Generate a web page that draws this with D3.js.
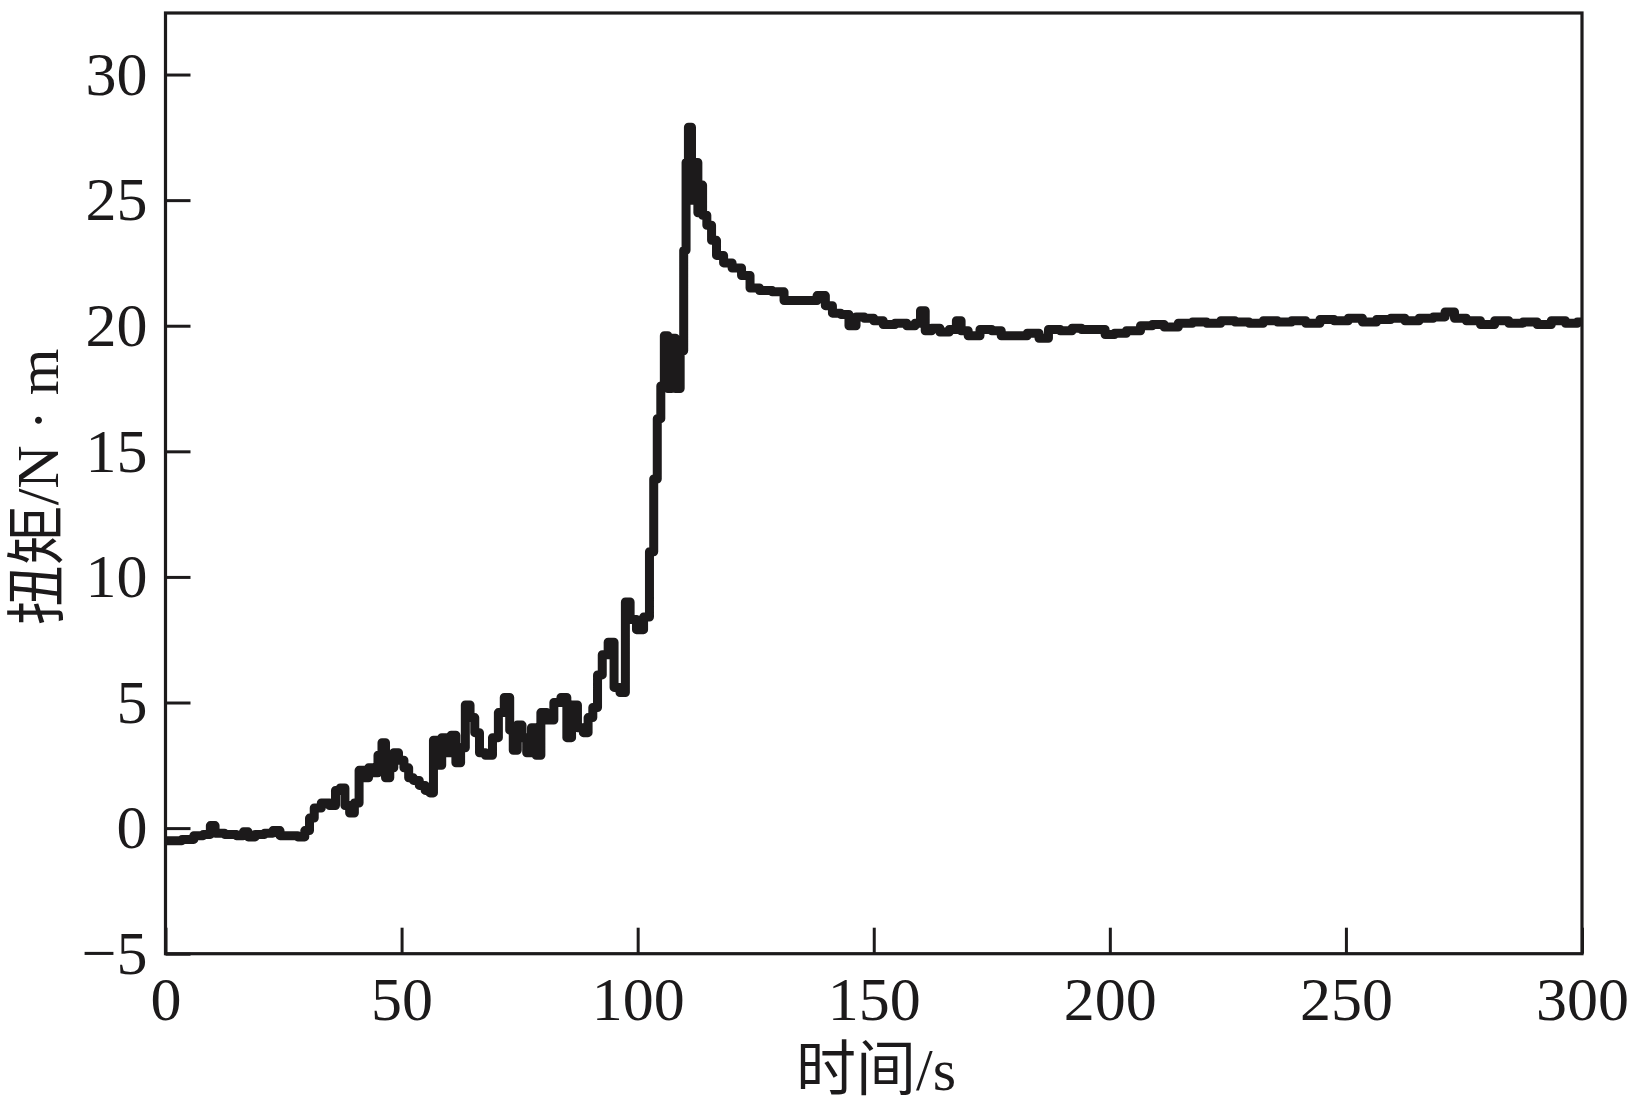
<!DOCTYPE html>
<html><head><meta charset="utf-8">
<script src="https://cdn.jsdelivr.net/npm/d3@7"></script>
<style>
html,body{margin:0;padding:0;background:#fff;}
svg{display:block;}
</style></head>
<body>
<svg id="chart" width="1642" height="1114"></svg>
<script>
// time (s)
const times = [0,2,5,7,9,10,11,14,16,17,18,20,22,23.5,25,27,29,30,31,32,34,35.5,36.5,37.5,38.5,39.5,40.5,41.5,42.5,43.5,44.5,45.5,46.2,47,48,48.7,50,51,52,53,54.5,55.5,56.5,57,58,59,60,61,62,63,64,65,66,67,68.5,70,71,72.5,73.3,74,75,76,77,78,79,80,81.5,83,84.5,85.5,86.5,88,89,90,91,92,93,94.5,95.5,97,97.8,99,100.5,102,103,103.8,104.5,105.3,106,106.8,107.5,108.5,109.5,110,110.5,111,111.8,112.5,113,113.5,114,115.3,116,117.4,119,121,123,124.6,127,130,132,137,139,140.5,142,144,145.5,147,149,151,153,156,158,159.5,160.3,161.5,163,165,167,168,169,171,174,176,178,181,184,186,188,191,193,195,198,200,202,205,208,210,213,216,219,222,225,228,231,234,237,240,243,246,249,252,255,258,261,264,267,270,272,274,277,280,283,286,289,292,295,298,300];
// torque (N·m)
const torque = [-0.5,-0.5,-0.45,-0.3,-0.25,0.1,-0.2,-0.25,-0.3,-0.15,-0.35,-0.25,-0.2,-0.1,-0.3,-0.3,-0.35,-0.1,0.4,0.8,1.0,0.9,1.5,1.6,0.9,0.6,1.0,2.3,2.0,2.4,2.2,2.9,3.4,2.0,2.4,3.0,2.7,2.4,2.0,1.9,1.7,1.5,1.4,3.5,2.5,3.6,3.0,3.7,2.6,3.2,4.9,4.4,3.8,3.0,2.9,3.6,4.6,5.2,3.9,3.1,4.1,3.6,3.0,4.0,2.9,4.6,4.3,5.0,5.2,3.6,4.9,4.0,3.8,4.4,4.8,6.1,6.9,7.4,5.6,5.4,9.0,8.3,7.9,8.4,11.0,13.9,16.3,17.6,19.6,17.5,19.5,17.5,19.0,23.0,26.5,27.9,25.0,26.5,24.5,25.6,24.4,24.0,23.4,22.8,22.5,22.3,22.0,21.5,21.4,21.35,21.0,21.0,21.2,20.8,20.5,20.45,20.0,20.35,20.3,20.2,20.05,20.1,20.0,20.1,20.6,19.8,19.9,19.75,19.85,20.2,19.8,19.6,19.85,19.8,19.6,19.6,19.7,19.5,19.85,19.8,19.9,19.85,19.85,19.65,19.7,19.8,20.0,20.05,19.95,20.1,20.15,20.1,20.2,20.15,20.1,20.2,20.15,20.2,20.1,20.25,20.2,20.3,20.15,20.25,20.3,20.2,20.3,20.35,20.55,20.3,20.2,20.05,20.2,20.1,20.15,20.05,20.2,20.1,20.15];
const xTicks = [0,50,100,150,200,250,300];
const yTicks = [-5,0,5,10,15,20,25,30];
const xTitle = "时间/s";
const yTitle = "扭矩/N · m";

(function(){
const svg = d3.select("#chart");
const ink = "#1c1a1b";
const fontNum = "'Liberation Serif','Times New Roman',serif";
const fontTitle = "'Liberation Serif','Noto Sans CJK SC',serif";

const mL = 165.5, mR = 1582, mT = 13, mB = 953.7;
const x = d3.scaleLinear().domain([0,300]).range([mL,mR]);
const y = d3.scaleLinear().domain([-5,32.45]).range([mB,mT]);

const data = times.map((t,i)=>({t, v: torque[i]}));

svg.append("path")
  .datum(data)
  .attr("fill","none")
  .attr("stroke",ink)
  .attr("stroke-width",9)
  .attr("stroke-linejoin","round")
  .attr("stroke-linecap","butt")
  .attr("d", d3.line().curve(d3.curveStep).x(d=>x(d.t)).y(d=>y(d.v)));

const fmt = d => d < 0 ? "\u2212" + Math.abs(d) : String(d);
const gx = svg.append("g").attr("transform",`translate(0,${mB})`)
  .call(d3.axisBottom(x).tickValues(xTicks).tickSize(-26).tickPadding(22).tickFormat(fmt));
const gy = svg.append("g").attr("transform",`translate(${mL},0)`)
  .call(d3.axisLeft(y).tickValues(yTicks).tickSize(-25).tickPadding(18).tickFormat(fmt));
[gx,gy].forEach(g=>{
  g.select(".domain").remove();
  g.selectAll(".tick line").attr("stroke",ink).attr("stroke-width",3);
  g.selectAll(".tick text").attr("fill",ink).style("font-family",fontNum).style("font-size","62px");
});

svg.append("rect")
  .attr("x",mL).attr("y",mT)
  .attr("width",mR-mL).attr("height",mB-mT)
  .attr("fill","none").attr("stroke",ink).attr("stroke-width",3.2);

svg.append("text")
  .attr("x",876).attr("y",1070)
  .attr("text-anchor","middle").attr("dominant-baseline","central")
  .attr("fill",ink).style("font-family",fontTitle).style("font-size","60px")
  .text(xTitle);
svg.append("text")
  .attr("transform","translate(38,487) rotate(-90)")
  .attr("text-anchor","middle").attr("dominant-baseline","central")
  .attr("fill",ink).style("font-family",fontTitle).style("font-size","60px")
  .text(yTitle);
})();
</script>
</body></html>
